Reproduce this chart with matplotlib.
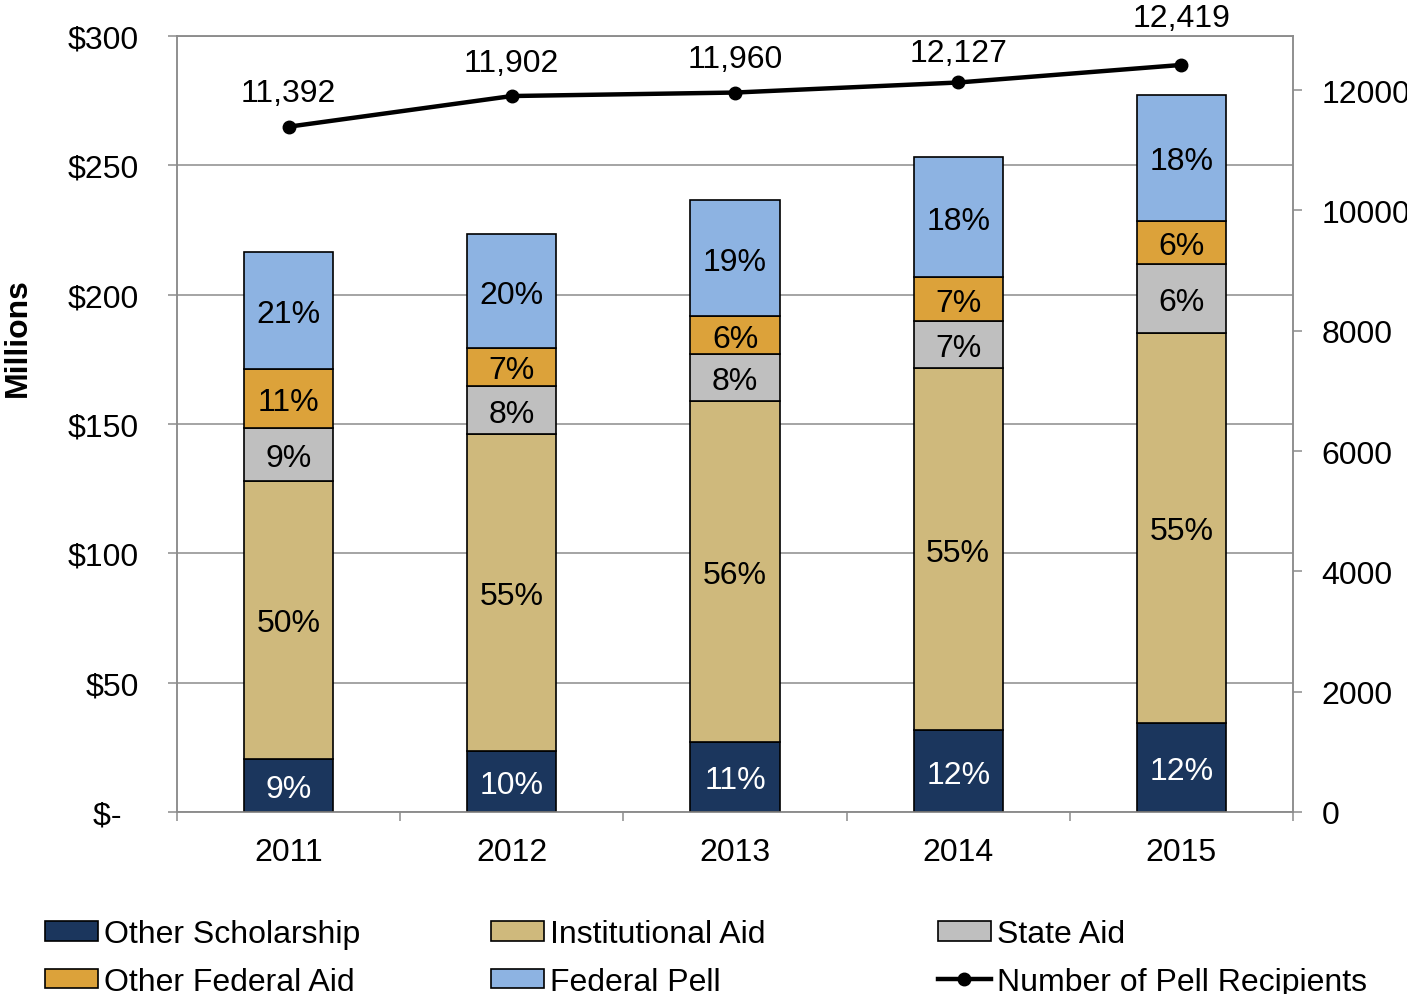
import matplotlib.pyplot as plt
from matplotlib.patches import Patch
from matplotlib.lines import Line2D
import numpy as np

plt.rcParams['font.family'] = ['Liberation Sans', 'DejaVu Sans']

years = ['2011', '2012', '2013', '2014', '2015']

# aid amounts in $ millions, bottom to top of each stack
other_scholarship = [20.5, 23.6, 27.1, 31.7, 34.4]
institutional_aid = [107.5, 122.5, 131.8, 139.9, 150.8]
state_aid = [20.4, 18.6, 18.1, 18.2, 26.6]
other_federal_aid = [22.8, 14.7, 14.7, 17.0, 16.7]
federal_pell = [45.3, 44.0, 44.9, 46.4, 48.7]

# share labels printed inside the segments
pct_other_scholarship = ['9%', '10%', '11%', '12%', '12%']
pct_institutional = ['50%', '55%', '56%', '55%', '55%']
pct_state = ['9%', '8%', '8%', '7%', '6%']
pct_other_federal = ['11%', '7%', '6%', '7%', '6%']
pct_pell = ['21%', '20%', '19%', '18%', '18%']

pell_recipients = [11392, 11902, 11960, 12127, 12419]

series = [
    ('Other Scholarship', other_scholarship, pct_other_scholarship, '#1b365d', 'white'),
    ('Institutional Aid', institutional_aid, pct_institutional, '#cfb97c', 'black'),
    ('State Aid', state_aid, pct_state, '#bfbfbf', 'black'),
    ('Other Federal Aid', other_federal_aid, pct_other_federal, '#dca23a', 'black'),
    ('Federal Pell', federal_pell, pct_pell, '#8db3e2', 'black'),
]

FS = 23
GRAY = '#8c8c8c'

fig = plt.figure(figsize=(14.07, 9.95), dpi=100)
ax = fig.add_axes([177 / 1407, 1 - 813 / 995, 1116 / 1407, 776 / 995])

x = np.arange(len(years))
bottom = np.zeros(len(years))
handles = {}
for name, vals, labels, color, tcolor in series:
    vals = np.array(vals)
    ax.bar(x, vals, 0.4, bottom=bottom, color=color, edgecolor='black',
           linewidth=1.2, zorder=3)
    handles[name] = Patch(facecolor=color, edgecolor='black', linewidth=1.2)
    for xi, b, v, lab in zip(x, bottom, vals, labels):
        ax.text(xi, b + v / 2, lab, ha='center', va='center_baseline', fontsize=FS,
                color=tcolor, zorder=4)
    bottom += vals

ax.set_xlim(-0.5, 4.5)
ax.set_ylim(0, 300)
ax.set_yticks(np.arange(0, 301, 50))
ax.set_yticklabels(['$-  '] + [f'${v}' for v in range(50, 301, 50)])
ax.set_xticks(x)
ax.set_xticklabels(years)
ax.set_xticks(np.arange(-0.5, 4.6, 1), minor=True)
ax.tick_params(axis='x', which='major', length=0, pad=18, labelsize=FS)
ax.tick_params(axis='x', which='minor', length=6.5, width=1.1, color=GRAY)
ax.tick_params(axis='y', length=6.5, width=1.1, color=GRAY, pad=21, labelsize=FS)
ax.grid(axis='y', color=GRAY, linewidth=1.1, zorder=0)
ax.set_axisbelow(True)
for sp in ax.spines.values():
    sp.set_color(GRAY)
    sp.set_linewidth(1.1)

fig.text(18 / 1407, 1 - 338 / 995, 'Millions', rotation=90, ha='center',
         va='center', fontsize=FS, fontweight='bold')

# recipients on the secondary axis
ax2 = ax.twinx()
ax2.plot(x, pell_recipients, color='black', linewidth=3.2, marker='o',
         markersize=9, zorder=5)
ax2.set_ylim(0, 12900)
ax2.set_yticks(np.arange(0, 12001, 2000))
ax2.tick_params(axis='y', length=6.5, width=1.1, color=GRAY, pad=14, labelsize=FS)
for sp in ax2.spines.values():
    sp.set_color(GRAY)
    sp.set_linewidth(1.1)

offsets = [24, 24, 24, 21, 34]
for xi, n, off in zip(x, pell_recipients, offsets):
    ax2.annotate(f'{n:,}', (xi, n), xytext=(0, off), textcoords='offset points',
                 ha='center', va='center', fontsize=FS)

line_handle = Line2D([], [], color='black', linewidth=3.2, marker='o', markersize=9)

leg_kw = dict(frameon=False, fontsize=FS, loc='center left', borderpad=0,
              borderaxespad=0, handlelength=1.65, handleheight=0.55,
              handletextpad=0.2, labelspacing=0.55)
cols = [
    (45, ['Other Scholarship', 'Other Federal Aid']),
    (491, ['Institutional Aid', 'Federal Pell']),
    (938, ['State Aid', 'Number of Pell Recipients']),
]
for xpix, names in cols:
    hs = [handles.get(n, line_handle) for n in names]
    fig.legend(hs, names, bbox_to_anchor=(xpix / 1407, 1 - 959 / 995), **leg_kw)

fig.savefig('out.png', dpi=100)
